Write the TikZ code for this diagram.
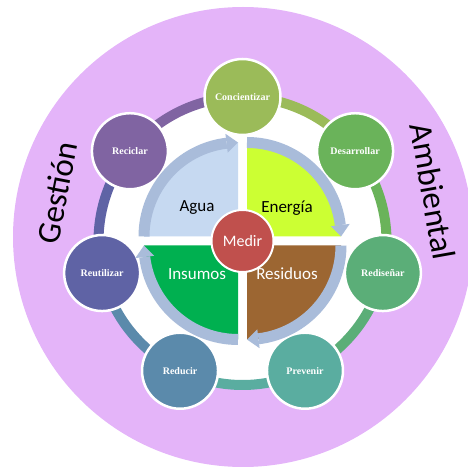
\documentclass[tikz,border=0pt]{standalone}
\usepackage{fontspec}
\setmainfont{Carlito}
\newfontfamily\satfont{Liberation Serif}
\usetikzlibrary{calc}
\definecolor{lav}{HTML}{E4B4F9}
\definecolor{cA}{HTML}{9BBB59}
\definecolor{cB}{HTML}{6AB35A}
\definecolor{cC}{HTML}{5BAE78}
\definecolor{cD}{HTML}{5AADA0}
\definecolor{cE}{HTML}{5B8AAB}
\definecolor{cF}{HTML}{5F63A5}
\definecolor{cG}{HTML}{8064A2}
\definecolor{bandblue}{HTML}{A9BCDA}
\definecolor{aguafill}{HTML}{C6D9F1}
\definecolor{energiafill}{HTML}{CCFF33}
\definecolor{insfill}{HTML}{00B050}
\definecolor{resfill}{HTML}{9C6632}
\definecolor{medirfill}{HTML}{C0504D}
\begin{document}
\begin{tikzpicture}[x=1pt,y=1pt,
  sat/.style={circle, minimum size=76pt, inner sep=0pt, draw=white, line width=2.5pt, text=white,
    font=\satfont\bfseries\fontsize{10}{11}\selectfont},
  quadlabel/.style={font=\fontsize{17}{17}\selectfont, inner sep=0pt},
  ringseg/.style={line width=10pt},
  qband/.style={line width=11pt, draw=bandblue},
  bigword/.style={font=\fontsize{33}{33}\selectfont, text=black, inner sep=0pt},
]
\useasboundingbox (0,0) rectangle (468,469);
% background disk
\fill[lav] (243,232) circle (230);
\coordinate (O) at (242.5,228);
\fill[white] (O) circle (144);
% ring segments
\foreach \i/\c in {0/cA,1/cB,2/cC,3/cD,4/cE,5/cF,6/cG}{
  \draw[ringseg, draw=\c] ($(O)+({90-\i*360/7}:144)$) arc[start angle={90-\i*360/7}, delta angle={-360/7}, radius=144];
}
% satellites
\node[sat, fill=cA] (s0) at ($(O)+({90-0*360/7}:144)$) {Concientizar};
\node[sat, fill=cB] (s1) at ($(O)+({90-1*360/7}:144)$) {Desarrollar};
\node[sat, fill=cC] (s2) at ($(O)+({90-2*360/7}:144)$) {Rediseñar};
\node[sat, fill=cD] (s3) at ($(O)+({90-3*360/7}:144)$) {Prevenir};
\node[sat, fill=cE] (s4) at ($(O)+({90-4*360/7}:144)$) {Reducir};
\node[sat, fill=cF] (s5) at ($(O)+({90-5*360/7}:144)$) {Reutilizar};
\node[sat, fill=cG] (s6) at ($(O)+({90-6*360/7}:144)$) {Reciclar};
% quadrants with circular arrows
\foreach \dx/\dy/\a/\fc in {-4.5/4.5/180/aguafill, 4.5/4.5/90/energiafill, 4.5/-4.5/0/resfill, -4.5/-4.5/270/insfill}{
  \begin{scope}[shift={($(O)+(\dx,\dy)$)}]
    \fill[\fc] (0,0) -- (\a:94) arc[start angle=\a, delta angle=-90, radius=94] -- cycle;
    \draw[qband] (\a:94) arc[start angle=\a, delta angle=-83, radius=94];
    \fill[bandblue] ({\a-83}:103.5) -- ({\a-83}:84.5) -- ({\a-90}:94) -- cycle;
  \end{scope}
}
% labels
\node[quadlabel] (agua) at ($(O)+(-45.5,33)$) {Agua};
\node[quadlabel] (energia) at ($(O)+(44.5,33)$) {Energía};
\node[quadlabel, text=white] (insumos) at ($(O)+(-45.5,-33)$) {Insumos};
\node[quadlabel, text=white] (residuos) at ($(O)+(44.5,-33)$) {Residuos};
% center
\node[circle, fill=medirfill, draw=white, line width=2pt, minimum size=62pt, inner sep=0pt, text=white,
  font=\fontsize{16}{16}\selectfont] (medir) at (O) {Medir};
% side titles
\node[bigword, rotate=79] (gestion) at (57,276.5) {Gestión};
\node[bigword, rotate=-80] (ambiental) at (433,277.5) {Ambiental};
\end{tikzpicture}
\end{document}
